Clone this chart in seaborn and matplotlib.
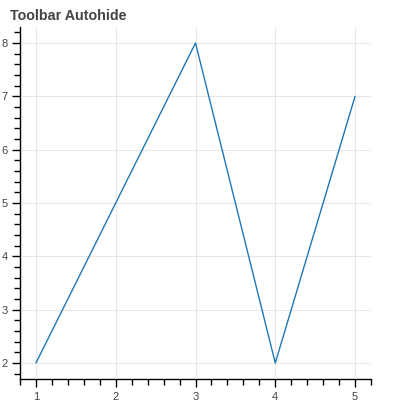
import matplotlib
matplotlib.use("Agg")
import matplotlib.pyplot as plt
from matplotlib.ticker import MultipleLocator
import pandas as pd
import seaborn as sns

# chart values
x_values = [1, 2, 3, 4, 5]
y_values = [2, 5, 8, 2, 7]
title = "Toolbar Autohide"

sns.set_style("white")
plt.rcParams["font.family"] = ["Liberation Sans", "DejaVu Sans"]

data = pd.DataFrame({"x": x_values, "y": y_values})

fig = plt.figure(figsize=(4, 4), dpi=100)
ax = fig.add_axes([0.05, 0.0525, 0.8775, 0.88])

sns.lineplot(data=data, x="x", y="y", ax=ax, color="#1f77b4", linewidth=1)

ax.set_xlim(0.8, 5.2)
ax.set_ylim(1.7, 8.3)
ax.xaxis.set_major_locator(MultipleLocator(1))
ax.yaxis.set_major_locator(MultipleLocator(1))
ax.xaxis.set_minor_locator(MultipleLocator(0.2))
ax.yaxis.set_minor_locator(MultipleLocator(0.2))
ax.set_xlabel("")
ax.set_ylabel("")

ax.grid(True, which="major", color="#e8e8e8", linewidth=0.8)
ax.set_axisbelow(True)
for side in ["top", "right"]:
    ax.spines[side].set_visible(False)
for side in ["left", "bottom"]:
    ax.spines[side].set_color("black")
    ax.spines[side].set_linewidth(1)

ax.tick_params(which="major", direction="out", length=6, width=1,
               color="black", labelsize=8, labelcolor="#444444", pad=3)
ax.tick_params(which="minor", direction="out", length=4, width=1,
               color="black")
ax.tick_params(left=True, bottom=True)
ax.tick_params(which="minor", left=True, bottom=True)

fig.text(0.025, 0.95, title, fontsize=10.3, fontweight="bold",
         color="#444444", ha="left", va="baseline")

fig.savefig("out.png", dpi=100)
